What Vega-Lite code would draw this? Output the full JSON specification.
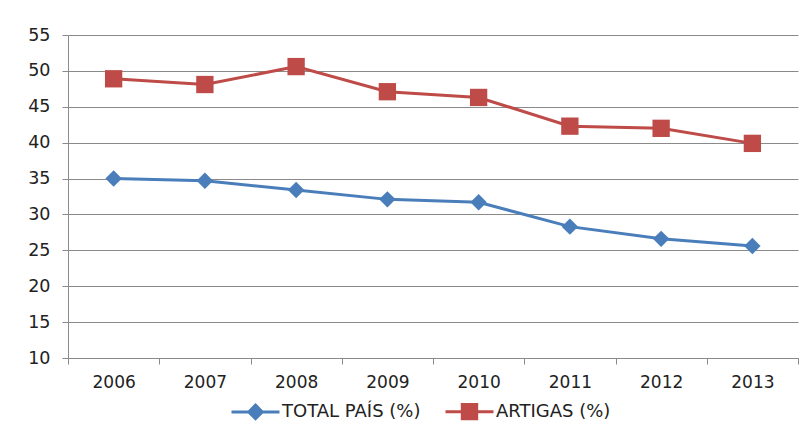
{
  "$schema": "https://vega.github.io/schema/vega-lite/v6.json",
  "width": 730,
  "height": 323,
  "autosize": {"type": "none"},
  "padding": {"left": 68, "top": 35, "right": 9, "bottom": 72},
  "background": "white",
  "config": {"view": {"stroke": null}},
  "data": {
    "values": [
      {"year": "2006", "series": "TOTAL PAÍS (%)", "value": 35.0},
      {"year": "2007", "series": "TOTAL PAÍS (%)", "value": 34.7},
      {"year": "2008", "series": "TOTAL PAÍS (%)", "value": 33.4},
      {"year": "2009", "series": "TOTAL PAÍS (%)", "value": 32.1},
      {"year": "2010", "series": "TOTAL PAÍS (%)", "value": 31.7},
      {"year": "2011", "series": "TOTAL PAÍS (%)", "value": 28.3},
      {"year": "2012", "series": "TOTAL PAÍS (%)", "value": 26.6},
      {"year": "2013", "series": "TOTAL PAÍS (%)", "value": 25.6},
      {"year": "2006", "series": "ARTIGAS (%)", "value": 48.9},
      {"year": "2007", "series": "ARTIGAS (%)", "value": 48.1},
      {"year": "2008", "series": "ARTIGAS (%)", "value": 50.6},
      {"year": "2009", "series": "ARTIGAS (%)", "value": 47.1},
      {"year": "2010", "series": "ARTIGAS (%)", "value": 46.3},
      {"year": "2011", "series": "ARTIGAS (%)", "value": 42.3},
      {"year": "2012", "series": "ARTIGAS (%)", "value": 42.0},
      {"year": "2013", "series": "ARTIGAS (%)", "value": 39.9}
    ]
  },
  "encoding": {
    "x": {
      "field": "year",
      "type": "ordinal",
      "scale": {"type": "band", "paddingInner": 0, "paddingOuter": 0},
      "axis": {
        "title": null,
        "labelAngle": 0,
        "grid": false,
        "tickBand": "extent",
        "domainColor": "#8a8a8a",
        "tickColor": "#8a8a8a",
        "tickSize": 6,
        "labelPadding": 10,
        "labelFont": "DejaVu Sans",
        "labelFontSize": 17,
        "labelColor": "#222222"
      }
    },
    "y": {
      "field": "value",
      "type": "quantitative",
      "scale": {"domain": [10, 55], "nice": false, "zero": false},
      "axis": {
        "title": null,
        "values": [10, 15, 20, 25, 30, 35, 40, 45, 50, 55],
        "grid": true,
        "gridColor": "#8a8a8a",
        "gridWidth": 1,
        "domainColor": "#8a8a8a",
        "tickColor": "#8a8a8a",
        "tickSize": 6,
        "labelPadding": 12,
        "labelFont": "DejaVu Sans",
        "labelFontSize": 17.5,
        "labelColor": "#222222"
      }
    },
    "color": {
      "field": "series",
      "type": "nominal",
      "scale": {"domain": ["TOTAL PAÍS (%)", "ARTIGAS (%)"], "range": ["#4A7EBB", "#BE4B48"]},
      "legend": {
        "title": null,
        "orient": "none",
        "direction": "horizontal",
        "legendX": 162,
        "legendY": 351,
        "padding": 0,
        "symbolSize": 2304,
        "labelFont": "DejaVu Sans",
        "labelFontSize": 18,
        "labelColor": "#222222",
        "labelOffset": 1,
        "columnPadding": 18,
        "encode": {
          "symbols": {
            "update": {
              "shape": {"signal": "datum.value === 'TOTAL PAÍS (%)' ? 'M-1,0H1M0,-0.28L0.28,0L0,0.28L-0.28,0Z' : 'M-1,0H1M-0.3,-0.3H0.3V0.3H-0.3Z'"},
              "fill": {"signal": "datum.value === 'TOTAL PAÍS (%)' ? '#4A7EBB' : '#BE4B48'"},
              "stroke": {"signal": "datum.value === 'TOTAL PAÍS (%)' ? '#4A7EBB' : '#BE4B48'"},
              "strokeWidth": {"value": 3},
              "size": {"value": 2304},
              "opacity": {"value": 1}
            }
          }
        }
      }
    }
  },
  "layer": [
    {"mark": {"type": "line", "strokeWidth": 3}},
    {
      "transform": [{"filter": "datum.series === 'TOTAL PAÍS (%)'"}],
      "mark": {"type": "point", "filled": true, "opacity": 1, "size": 270, "shape": "diamond"}
    },
    {
      "transform": [{"filter": "datum.series === 'ARTIGAS (%)'"}],
      "mark": {"type": "point", "filled": true, "opacity": 1, "size": 300, "shape": "square"}
    }
  ]
}
